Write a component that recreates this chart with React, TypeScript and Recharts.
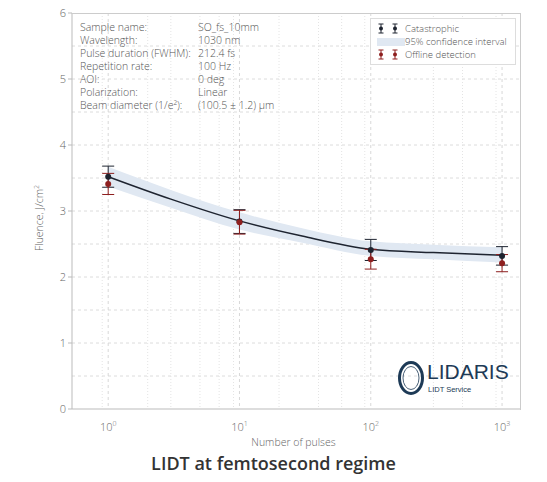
import React from "react";
import { ComposedChart, Line, Area, Scatter, ErrorBar, XAxis, YAxis, CartesianGrid } from "recharts";

// pulses for each measured point
const pulses = [1, 10, 100, 1000];
const catastrophic = [3.52, 2.84, 2.41, 2.32];
const catastrophicErr = [0.16, 0.18, 0.16, 0.14];
const offline = [3.41, 2.83, 2.27, 2.21];
const offlineErr = [0.16, 0.18, 0.15, 0.13];

// fitted curve and 95% band
const fitPulses = [1, 3, 10, 30, 100, 300, 1000];
const fitValues = [3.52, 3.18, 2.85, 2.62, 2.42, 2.37, 2.33];
const bandLow = [3.37, 3.05, 2.72, 2.52, 2.32, 2.27, 2.22];
const bandHigh = [3.67, 3.32, 2.98, 2.74, 2.54, 2.49, 2.45];

const yTicks = [0, 1, 2, 3, 4, 5, 6];
const xTicks = [1, 10, 100, 1000];

const infoLabels = [
  "Sample name:",
  "Wavelength:",
  "Pulse duration (FWHM):",
  "Repetition rate:",
  "AOI:",
  "Polarization:",
  "Beam diameter (1/e\u00b2):",
];
const infoValues = ["SO_fs_10mm", "1030 nm", "212.4 fs", "100 Hz", "0 deg", "Linear", "(100.5 \u00b1 1.2) \u00b5m"];

const FONT = "'Open Sans', sans-serif";
const BLACK = "#1e2430";
const RED = "#8e1f1f";
const NAVY = "#1d3a56";

const catData = pulses.map((x, i) => ({ x, y: catastrophic[i], err: catastrophicErr[i] }));
const offData = pulses.map((x, i) => ({ x, y: offline[i], err: offlineErr[i] }));
const fitData = fitPulses.map((x, i) => ({ x, fit: fitValues[i] }));
const bandData = fitPulses.map((x, i) => ({ x, band: [bandLow[i], bandHigh[i]] }));

const minorX: number[] = [];
[0.1, 1, 10, 100].forEach((d) => {
  for (let k = 2; k <= 9; k++) {
    const v = k * d;
    if (v > 0.53 && v < 1370) minorX.push(v);
  }
});
const halfY = [0.5, 1, 1.5, 2, 2.5, 3, 3.5, 4, 4.5, 5, 5.5];

const PowTick = (props: any) => {
  const { x, y, payload } = props;
  const exp = Math.round(Math.log10(payload.value));
  return (
    <text x={x} y={y + 14} textAnchor="middle" fill="#666" fontSize={11} fontFamily={FONT} fontWeight={300}>
      10
      <tspan dy={-5} fontSize={7}>
        {exp}
      </tspan>
    </text>
  );
};

const ErrIcon = ({ color }: { color: string }) => (
  <svg width={8} height={11} style={{ marginRight: 6 }}>
    <line x1={4} y1={1} x2={4} y2={10} stroke={color} strokeWidth={1} />
    <line x1={1.5} y1={1} x2={6.5} y2={1} stroke={color} strokeWidth={1} />
    <line x1={1.5} y1={10} x2={6.5} y2={10} stroke={color} strokeWidth={1} />
    <circle cx={4} cy={5.5} r={2} fill={color} />
  </svg>
);

const dot = (color: string) => (p: any) => <circle cx={p.cx} cy={p.cy} r={3} fill={color} />;

export default function App() {
  const textStyle: React.CSSProperties = {
    fontFamily: FONT,
    fontWeight: 300,
    fontSize: 10.5,
    color: "#555",
    lineHeight: "13px",
    whiteSpace: "nowrap",
  };
  return (
    <div style={{ position: "absolute", left: 0, top: 0, width: 547, height: 482, background: "#fff" }}>
      <ComposedChart width={547} height={440} margin={{ top: 13, right: 27, bottom: 0, left: 52 }}>
        <CartesianGrid horizontalValues={halfY} vertical={false} stroke="#dcdcdc" strokeDasharray="3 3" />
        <CartesianGrid verticalValues={minorX} horizontal={false} stroke="#e4e4e4" strokeDasharray="1 2" />
        <CartesianGrid verticalValues={xTicks} horizontal={false} stroke="#d8d8d8" strokeDasharray="3 3" />
        <XAxis
          dataKey="x"
          type="number"
          scale="log"
          domain={[0.53, 1370]}
          allowDataOverflow
          ticks={xTicks}
          tick={<PowTick />}
          tickLine={false}
          axisLine={{ stroke: "#bbb" }}
          height={31}
        />
        <YAxis
          type="number"
          domain={[0, 6]}
          ticks={yTicks}
          width={20}
          tickSize={4}
          tickLine={{ stroke: "#bbb" }}
          axisLine={{ stroke: "#bbb" }}
          tick={{ fill: "#666", fontSize: 11, fontFamily: FONT, fontWeight: 300 }}
        />
        <Area
          data={bandData}
          dataKey="band"
          type="monotone"
          fill="#e0e8f2"
          fillOpacity={1}
          stroke="none"
          isAnimationActive={false}
        />
        <Line
          data={fitData}
          dataKey="fit"
          type="monotone"
          stroke={BLACK}
          strokeWidth={1.5}
          dot={false}
          isAnimationActive={false}
        />
        <Scatter data={catData} dataKey="y" fill={BLACK} shape={dot(BLACK)} isAnimationActive={false}>
          <ErrorBar dataKey="err" direction="y" width={6} stroke={BLACK} strokeWidth={1} />
        </Scatter>
        <Scatter data={offData} dataKey="y" fill={RED} shape={dot(RED)} isAnimationActive={false}>
          <ErrorBar dataKey="err" direction="y" width={6} stroke={RED} strokeWidth={1} />
        </Scatter>
      </ComposedChart>

      {/* plot frame */}
      <div
        style={{
          position: "absolute",
          left: 72,
          top: 13,
          width: 448,
          height: 396,
          borderTop: "1px solid #ccc",
          borderRight: "1px solid #ccc",
          pointerEvents: "none",
        }}
      />

      {/* sample info */}
      <div style={{ position: "absolute", left: 80, top: 21, display: "flex", ...textStyle }}>
        <div style={{ width: 118 }}>
          {infoLabels.map((t) => (
            <div key={t}>{t}</div>
          ))}
        </div>
        <div>
          {infoValues.map((t) => (
            <div key={t}>{t}</div>
          ))}
        </div>
      </div>

      {/* legend */}
      <div
        style={{
          position: "absolute",
          left: 370,
          top: 18,
          width: 138,
          padding: "3px 0 3px 6px",
          border: "1px solid #ddd",
          background: "#fff",
          ...textStyle,
          fontSize: 9.5,
          lineHeight: "13px",
        }}
      >
        <div style={{ display: "flex", alignItems: "center", height: 13 }}>
          <ErrIcon color={BLACK} />
          <ErrIcon color={BLACK} />
          <span>Catastrophic</span>
        </div>
        <div style={{ display: "flex", alignItems: "center", height: 13 }}>
          <div style={{ width: 28, height: 8, background: "#e0e8f2" }} />
          <span>95% confidence interval</span>
        </div>
        <div style={{ display: "flex", alignItems: "center", height: 13 }}>
          <ErrIcon color={RED} />
          <ErrIcon color={RED} />
          <span>Offline detection</span>
        </div>
      </div>

      {/* logo */}
      <svg style={{ position: "absolute", left: 397, top: 355 }} width={30} height={44}>
        <ellipse cx={14} cy={23} rx={11.5} ry={15.5} fill="none" stroke={NAVY} strokeWidth={3} />
        <ellipse cx={14} cy={23} rx={8} ry={11.5} fill="none" stroke={NAVY} strokeWidth={0.8} />
      </svg>
      <div
        style={{
          position: "absolute",
          left: 427,
          top: 361,
          fontFamily: "'Liberation Sans', Arial, sans-serif",
          fontWeight: 400,
          fontSize: 21,
          color: NAVY,
          lineHeight: "22px",
        }}
      >
        LIDARIS
      </div>
      <div
        style={{
          position: "absolute",
          left: 428,
          top: 385,
          fontFamily: "'Liberation Sans', Arial, sans-serif",
          fontSize: 7.5,
          lineHeight: "9px",
          color: NAVY,
        }}
      >
        LIDT Service
      </div>

      {/* axis labels */}
      <div
        style={{
          position: "absolute",
          left: 38,
          top: 218,
          transform: "translate(-50%, -50%) rotate(-90deg)",
          ...textStyle,
          color: "#666",
        }}
      >
        Fluence, J/cm<sup style={{ fontSize: 7 }}>2</sup>
      </div>
      <div style={{ position: "absolute", left: 0, width: 587, top: 436, textAlign: "center", ...textStyle, color: "#666" }}>
        Number of pulses
      </div>
      <div
        style={{
          position: "absolute",
          left: 0,
          width: 547,
          top: 451,
          textAlign: "center",
          fontFamily: FONT,
          fontWeight: 600,
          fontSize: 18,
          color: "#333",
        }}
      >
        LIDT at femtosecond regime
      </div>
    </div>
  );
}
